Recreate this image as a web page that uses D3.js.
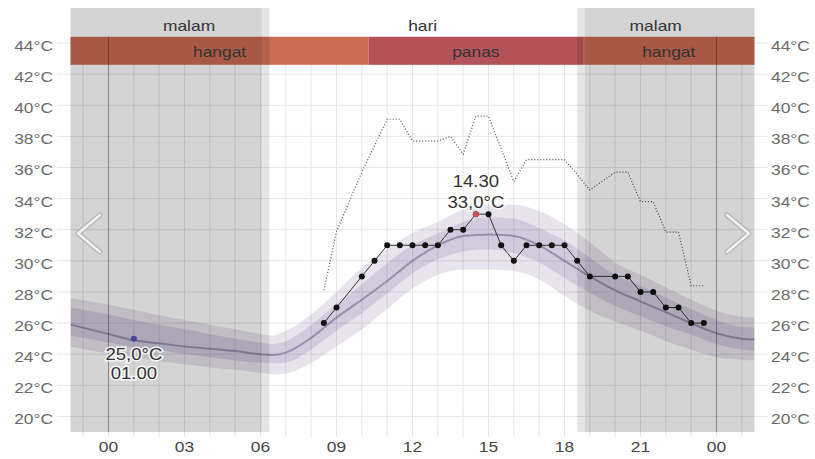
<!DOCTYPE html>
<html>
<head>
<meta charset="utf-8">
<script src="https://cdn.jsdelivr.net/npm/d3@7"></script>
<style>
  body { margin: 0; background: #fff; }
  text { font-family: "Liberation Sans", Arial, sans-serif; font-size: 15px; }
</style>
</head>
<body>
<div id="chart"></div>
<script>
// Hourly temperature chart (observed, "feels like", forecast bands)

// forecast: hours and band values
const fcHours   = [-1.5, 0, 1, 2, 3, 4, 5, 6, 6.5, 7, 8, 9, 10, 11, 12, 13, 14, 15, 16, 17, 18, 19, 20, 21, 22, 23, 24, 25, 25.5];
const fcMedian  = [25.9, 25.3, 24.9, 24.7, 24.5, 24.35, 24.2, 24.0, 23.95, 24.1, 25.05, 26.35, 27.5, 28.7, 30.0, 31.0, 31.6, 31.7, 31.6, 31.0, 30.0, 29.0, 28.1, 27.4, 26.7, 26.0, 25.35, 25.0, 24.95];
const fcInnerHi = [27.0, 26.55, 26.2, 25.9, 25.6, 25.3, 25.0, 24.75, 24.65, 24.85, 25.9, 27.2, 28.5, 29.85, 31.0, 31.75, 32.5, 32.8, 32.7, 32.1, 31.3, 30.2, 29.1, 28.4, 27.65, 26.9, 26.2, 25.75, 25.7];
const fcInnerLo = [25.2, 24.75, 24.45, 24.25, 24.0, 23.8, 23.6, 23.45, 23.4, 23.45, 24.3, 25.5, 26.65, 27.9, 29.2, 30.1, 30.6, 30.75, 30.5, 29.9, 28.9, 27.95, 27.1, 26.45, 25.8, 25.25, 24.65, 24.3, 24.2];
const fcOuterHi = [27.6, 27.2, 26.85, 26.5, 26.2, 25.9, 25.6, 25.3, 25.2, 25.5, 26.55, 28.0, 29.55, 30.75, 31.8, 32.5, 33.3, 33.6, 33.6, 33.2, 32.35, 31.2, 29.9, 29.1, 28.3, 27.5, 26.8, 26.4, 26.35];
const fcOuterLo = [24.5, 24.05, 23.8, 23.55, 23.35, 23.15, 23.0, 22.8, 22.7, 22.75, 23.45, 24.5, 25.6, 26.9, 28.2, 29.1, 29.45, 29.45, 29.35, 28.8, 27.75, 26.8, 26.1, 25.5, 24.85, 24.3, 23.8, 23.65, 23.6];

// observations (half-hourly)
const obsHours  = [8.5, 9, 10, 10.5, 11, 11.5, 12, 12.5, 13, 13.5, 14, 14.5, 15, 15.5, 16, 16.5, 17, 17.5, 18, 18.5, 19, 20, 20.5, 21, 21.5, 22, 22.5, 23, 23.5];
const obsTemp   = [26, 27, 29, 30, 31, 31, 31, 31, 31, 32, 32, 33, 33, 31, 30, 31, 31, 31, 31, 30, 29, 29, 29, 28, 28, 27, 27, 26, 26];
const obsFeels  = [28.1, 31.9, 35.7, 37.4, 39.1, 39.1, 37.7, 37.7, 37.7, 38.0, 36.85, 39.3, 39.3, 37.2, 35.1, 36.5, 36.5, 36.5, 36.5, 35.55, 34.55, 35.7, 35.7, 33.8, 33.8, 31.85, 31.85, 28.4, 28.4];

// min / max markers
const markHours  = [1, 14.5];
const markTemps  = [25.0, 33.0];
const markTimes  = ["01.00", "14.30"];
const markColors = ["#5a55b8", "#d0504f"];

// day / night
const partLabels = ["malam", "hari", "malam"];
const partHours  = [3.18, 12.4, 21.6];
const nightStart = [-1.5, 18.8];
const nightEnd   = [6.05, 25.5];
const twiStart   = [6.05, 18.5];
const twiEnd     = [6.35, 18.8];

// heat category band
const heatLabels = ["hangat", "panas", "hangat"];
const heatStart  = [-1.5, 10.27, 18.73];
const heatEnd    = [10.27, 18.73, 25.5];
const heatColors = ["#c45f47", "#ad434a", "#c45f47"];
const heatRange  = [42.6, 44.4];

const xTicks = [0, 3, 6, 9, 12, 15, 18, 21, 24];
const yTicks = [20, 22, 24, 26, 28, 30, 32, 34, 36, 38, 40, 42, 44];

// layout
const width = 815, height = 459;
const plotLeft = 70.5, plotRight = 754.5, plotTop = 8, plotBottom = 432;
const sx = 1.16; // horizontal stretch of the text

const x = d3.scaleLinear().domain([-1.5, 25.5]).range([plotLeft, plotRight]);
const y = d3.scaleLinear().domain([19, 46.25]).range([plotBottom, plotTop]);

const svg = d3.select("#chart").append("svg")
    .attr("width", width)
    .attr("height", height);

svg.append("clipPath").attr("id", "plot")
    .append("rect")
    .attr("x", plotLeft).attr("y", plotTop)
    .attr("width", plotRight - plotLeft).attr("height", plotBottom - plotTop);

function put(g, px, py, s, anchor) {
    return g.append("text")
        .attr("transform", `translate(${px},${py}) scale(${sx},1)`)
        .attr("text-anchor", anchor || "middle")
        .text(s);
}

// horizontal gridlines
svg.append("g").selectAll("line")
    .data(yTicks)
    .enter().append("line")
    .attr("x1", 57).attr("x2", 768)
    .attr("y1", d => y(d)).attr("y2", d => y(d))
    .style("stroke", "#e6e6e6");

// vertical gridlines every hour
svg.append("g").selectAll("line")
    .data(d3.range(-1, 26))
    .enter().append("line")
    .attr("x1", d => x(d)).attr("x2", d => x(d))
    .attr("y1", y(heatRange[1])).attr("y2", 437)
    .style("stroke", "#e6e6e6");

// heat band
const heat = svg.append("g");
heat.selectAll("rect")
    .data(heatLabels)
    .enter().append("rect")
    .attr("x", (d, i) => x(heatStart[i]))
    .attr("width", (d, i) => x(heatEnd[i]) - x(heatStart[i]))
    .attr("y", y(heatRange[1]))
    .attr("height", y(heatRange[0]) - y(heatRange[1]))
    .style("fill", (d, i) => heatColors[i])
    .style("opacity", 0.92);

// forecast bands
const fc = fcHours.map((h, i) => ({
    h: h, med: fcMedian[i],
    ih: fcInnerHi[i], il: fcInnerLo[i],
    oh: fcOuterHi[i], ol: fcOuterLo[i]
}));

const band = svg.append("g").attr("clip-path", "url(#plot)");

band.append("path")
    .datum(fc)
    .attr("d", d3.area().curve(d3.curveMonotoneX)
        .x(d => x(d.h)).y0(d => y(d.ol)).y1(d => y(d.oh)))
    .style("fill", "rgba(95,75,135,0.15)");

band.append("path")
    .datum(fc)
    .attr("d", d3.area().curve(d3.curveMonotoneX)
        .x(d => x(d.h)).y0(d => y(d.il)).y1(d => y(d.ih)))
    .style("fill", "rgba(95,75,135,0.16)");

band.append("path")
    .datum(fc)
    .attr("d", d3.line().curve(d3.curveMonotoneX)
        .x(d => x(d.h)).y(d => y(d.med)))
    .style("fill", "none")
    .style("stroke", "rgba(85,70,115,0.45)")
    .style("stroke-width", 2);

// "feels like" dotted line
band.append("path")
    .datum(obsHours.map((h, i) => [h, obsFeels[i]]))
    .attr("d", d3.line().x(d => x(d[0])).y(d => y(d[1])))
    .style("fill", "none")
    .style("stroke", "#555")
    .style("stroke-width", 1.2)
    .style("stroke-dasharray", "1,2");

// observed temperatures
const obs = obsHours.map((h, i) => [h, obsTemp[i]]);
band.append("path")
    .datum(obs)
    .attr("d", d3.line().x(d => x(d[0])).y(d => y(d[1])))
    .style("fill", "none")
    .style("stroke", "#333")
    .style("stroke-width", 1);

band.selectAll(".obs")
    .data(obs)
    .enter().append("circle")
    .attr("class", "obs")
    .attr("cx", d => x(d[0]))
    .attr("cy", d => y(d[1]))
    .attr("r", 3)
    .style("fill", "#111");

band.selectAll(".mark")
    .data(markHours)
    .enter().append("circle")
    .attr("class", "mark")
    .attr("cx", d => x(d))
    .attr("cy", (d, i) => y(markTemps[i]))
    .attr("r", 3)
    .style("fill", (d, i) => markColors[i]);

// night and twilight overlays
const shade = svg.append("g");
nightStart.forEach((s, i) => {
    shade.append("rect")
        .attr("x", x(s)).attr("width", x(nightEnd[i]) - x(s))
        .attr("y", plotTop).attr("height", plotBottom - plotTop)
        .style("fill", "rgba(0,0,0,0.17)");
    shade.append("rect")
        .attr("x", x(twiStart[i])).attr("width", x(twiEnd[i]) - x(twiStart[i]))
        .attr("y", plotTop).attr("height", plotBottom - plotTop)
        .style("fill", "rgba(0,0,0,0.1)");
});

// midnight lines
shade.selectAll(".midnight")
    .data([0, 24])
    .enter().append("line")
    .attr("class", "midnight")
    .attr("x1", d => x(d)).attr("x2", d => x(d))
    .attr("y1", y(heatRange[1])).attr("y2", plotBottom)
    .style("stroke", "rgba(0,0,0,0.3)");

// header labels
const labels = svg.append("g").style("fill", "#333");
partLabels.forEach((s, i) => put(labels, x(partHours[i]), 31, s));
heatLabels.forEach((s, i) => put(labels, (x(heatStart[i]) + x(heatEnd[i])) / 2, 57, s));

// axes
const axes = svg.append("g");
yTicks.forEach(t => {
    put(axes, 53, y(t) + 8, t + "°C", "end").style("fill", "#6b6b6b");
    put(axes, 771, y(t) + 8, t + "°C", "start").style("fill", "#6b6b6b");
});
xTicks.forEach(t => {
    put(axes, x(t), 452, String(t % 24).padStart(2, "0")).style("fill", "#444");
});

// min / max annotations with halo
const ann = svg.append("g").style("fill", "#333")
    .style("font-size", "16px")
    .style("stroke", "rgba(255,255,255,0.85)")
    .style("stroke-width", 3)
    .style("paint-order", "stroke");
const fmt = v => v.toFixed(1).replace(".", ",") + "°C";
// min at night: value above time, below the point
put(ann, x(markHours[0]), y(markTemps[0]) + 21, fmt(markTemps[0])).style("font-size", "16px");
put(ann, x(markHours[0]), y(markTemps[0]) + 40, markTimes[0]).style("font-size", "16px");
// max: time above value, above the point
put(ann, x(markHours[1]), y(markTemps[1]) - 27, markTimes[1]).style("font-size", "16px");
put(ann, x(markHours[1]), y(markTemps[1]) - 6, fmt(markTemps[1])).style("font-size", "16px");

// navigation chevrons
const chev = svg.append("g").style("fill", "none").style("stroke-linecap", "round").style("stroke-linejoin", "round");
[[100, 78], [727, 749]].forEach(c => {
    const p = `M${c[0]},215L${c[1]},233.5L${c[0]},252`;
    chev.append("path").attr("d", p).style("stroke", "#b5b5b5").style("stroke-width", 5);
    chev.append("path").attr("d", p).style("stroke", "#f2f2f2").style("stroke-width", 2.5);
});
</script>
</body>
</html>
